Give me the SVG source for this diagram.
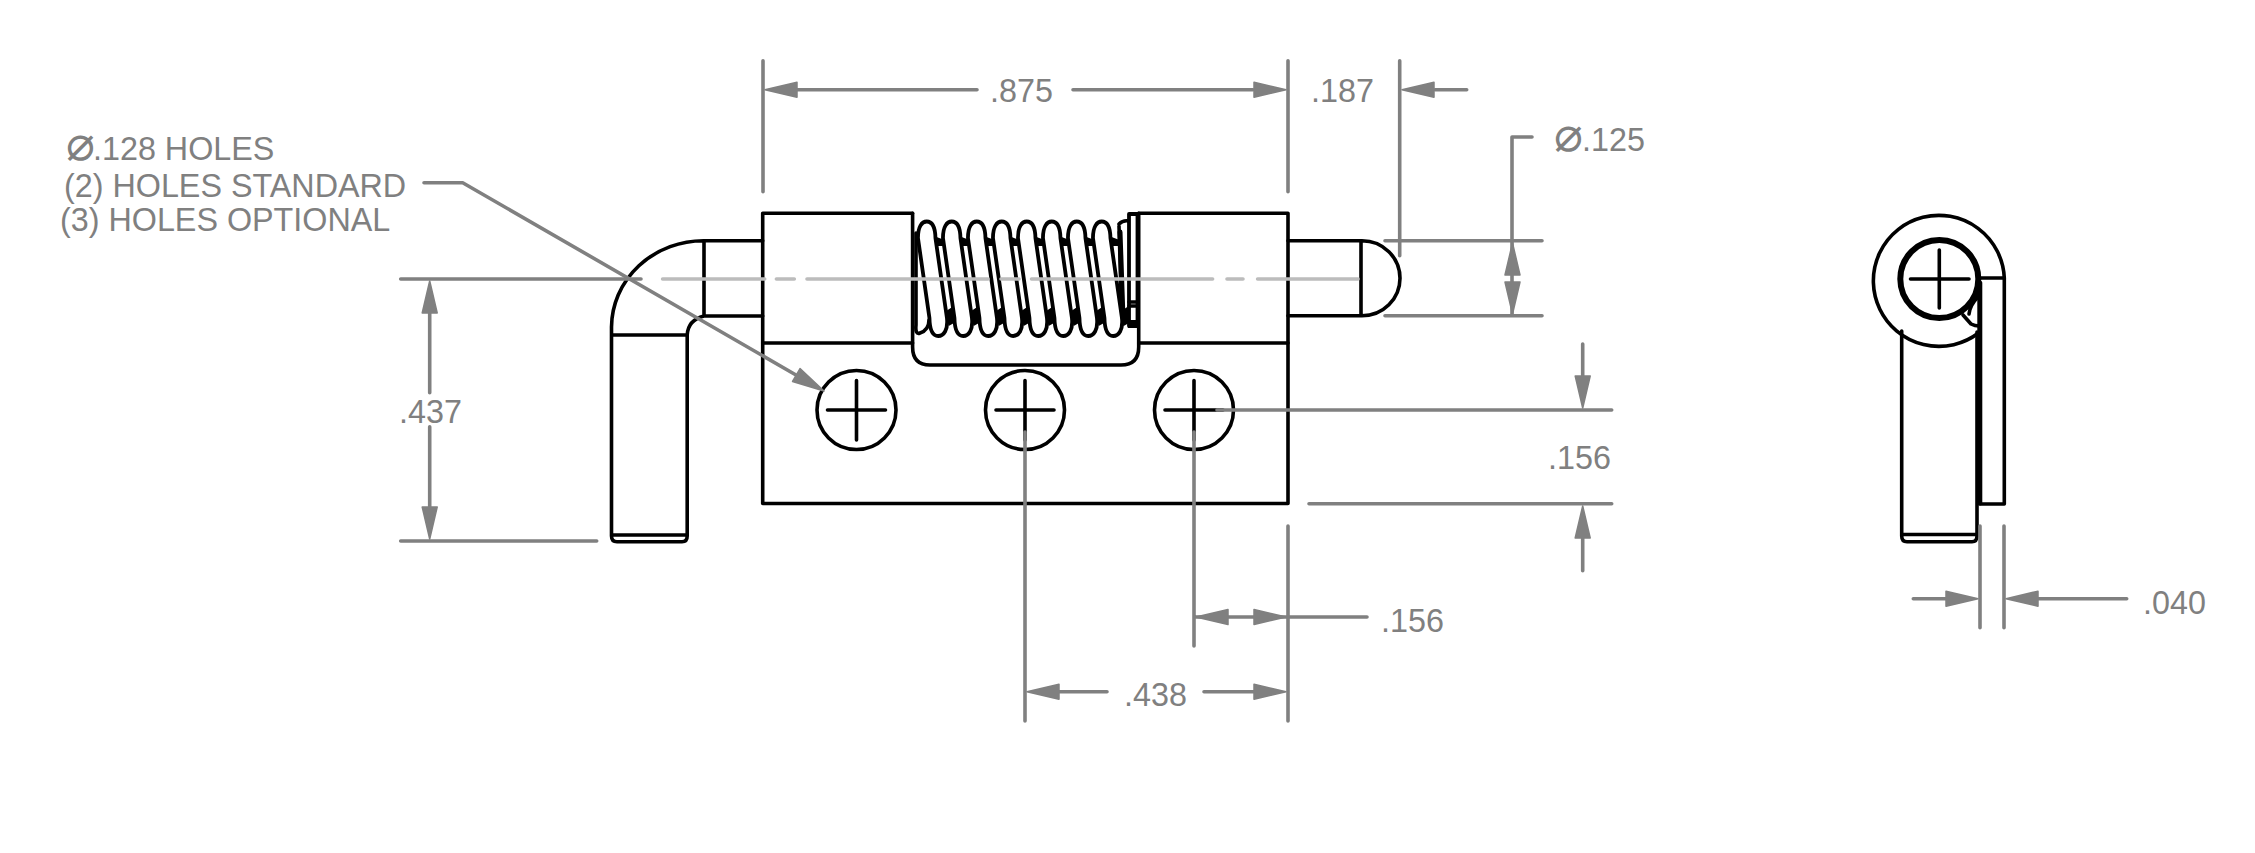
<svg xmlns="http://www.w3.org/2000/svg" xmlns:xlink="http://www.w3.org/1999/xlink" width="2255" height="853" viewBox="0 0 2255 853">
<style>
.k{fill:none;stroke:#000;stroke-width:3.6;stroke-linejoin:round;stroke-linecap:round}
.w{fill:#fff;stroke:#000;stroke-width:3.8;stroke-linejoin:round}
.g{fill:none;stroke:#808080;stroke-width:3.6;stroke-linecap:round;stroke-linejoin:round}
.c{fill:none;stroke:#bcbcbc;stroke-width:3.6;stroke-linecap:round}
.a{fill:#808080;stroke:#808080;stroke-width:1.5;stroke-linejoin:round}
text{font-family:"Liberation Sans",Arial,sans-serif;font-size:32.3px;fill:#808080}
.p{font-family:"DejaVu Sans",sans-serif;font-size:48px}
</style>
<defs>
<path id="ar" class="a" d="M0,0 L-32,-7.5 V7.5 Z"/>
<g id="coil">
<path d="M7,236 L18,240 L18,246 L9,246 Z M18,312 L27,306 L29,322 L22,326 Z" fill="#000"/>
<path class="w" d="M-8.75,238 C-8.75,227 -5,221.5 0,221.5 C5,221.5 8.5,227 8.75,238 L20.25,318 C21.5,330 17,336 11.5,336 C6,336 3,330 2.75,318 Z"/>
</g>
<g id="screw">
<circle class="k" r="39.5"/>
<path class="k" d="M-29,0 H29 M0,-29.5 V30"/>
</g>
</defs>
<rect width="2255" height="853" fill="#fff"/>

<g id="front-view">
<g id="pin-left">
<path class="k" d="M762.7,240.7 H704 A92,87 0 0 0 611.5,327 V536 Q611.5,541.7 617,541.7 H682 Q687.2,541.7 687.2,536 V335 Q688,320 704,316 H762.7 M704,240.7 V316 M611.5,335 H687.2 M612,535 H687"/>
</g>
<g id="pin-right">
<path class="k" d="M1288,240.7 H1362 A38,37.5 0 0 1 1362,315.7 H1288 M1361,240.7 V315.7"/>
</g>
<g id="body">
<path class="k" d="M912.6,343 H762.7 V503.5 H1288 V343 H1138.7"/>
<path class="k" d="M912.6,213.3 H762.7 V343 M1138.7,213.3 H1288 V343"/>
<path class="k" d="M912.6,213.3 V347 Q912.6,365 930,365 H1121 Q1138.7,365 1138.7,347 V213.3"/>
</g>
<g id="spring">
<path class="k" d="M916,233 V325 Q915,335 920,333 Q929,330 929,320"/>
<path class="k" d="M1119,224 Q1123,220 1128.5,221 M1119,226 L1122,325"/>
<use xlink:href="#coil" href="#coil" x="926.7"/>
<use xlink:href="#coil" href="#coil" x="951.7"/>
<use xlink:href="#coil" href="#coil" x="976.7"/>
<use xlink:href="#coil" href="#coil" x="1001.7"/>
<use xlink:href="#coil" href="#coil" x="1026.7"/>
<use xlink:href="#coil" href="#coil" x="1051.7"/>
<use xlink:href="#coil" href="#coil" x="1076.7"/>
<use xlink:href="#coil" href="#coil" x="1101.7"/>
<path class="k" style="stroke-width:5" d="M1120,232 L1123,318"/>
<path class="w" d="M1129,214 H1137.5 V326 H1129 Z"/>
<path class="k" d="M1129,302 H1137.5 M1129,306 H1137.5"/>
<path d="M1128,320 H1139 V328 H1128 Z" fill="#000"/>
</g>
<g id="hole-1"><use xlink:href="#screw" href="#screw" x="856.5" y="410"/></g>
<g id="hole-2"><use xlink:href="#screw" href="#screw" x="1025" y="410"/></g>
<g id="hole-3"><use xlink:href="#screw" href="#screw" x="1194" y="410"/></g>
<path id="centerline" class="c" d="M662.6,279 H764.7 M776.4,279 H794.3 M807,279 H988 M1001,279 H1019 M1031.5,279 H1212.6 M1227,279 H1243 M1257.6,279 H1358"/>
</g>

<g id="side-view">
<path class="k" d="M1978.5,333 A65.5,65.5 0 1 1 2004.3,278"/>
<path class="k" d="M1901.7,331 V536 Q1901.7,541.7 1907,541.7 H1972 Q1977,541.7 1977,536 V332 M1902,534.5 H1977"/>
<path class="k" d="M1980,278 H2004.3 V504 H1980"/>
<path class="k" style="stroke-width:5" d="M1979.8,283 V503"/>
<circle class="k" style="stroke-width:6" cx="1939.3" cy="279" r="39"/>
<path class="k" d="M1910.5,279 H1969 M1939.3,250 V308"/>
<path class="k" d="M1963,315 L1971,324 Q1975,326 1979,326 M1969,314 Q1970,305 1978,297"/>
</g>

<g id="connectors">
<g id="dim-875">
<path class="g" d="M763,60.7 V191.7 M1288,60.7 V191.7 M797,89.7 H977 M1073,89.7 H1253"/>
<use xlink:href="#ar" href="#ar" transform="translate(765,89.7) rotate(180)"/>
<use xlink:href="#ar" href="#ar" transform="translate(1286,89.7)"/>
</g>
<g id="dim-187">
<path class="g" d="M1399.7,60.7 V255.7 M1435,89.7 H1466.7"/>
<use xlink:href="#ar" href="#ar" transform="translate(1402,89.7) rotate(180)"/>
</g>
<g id="dim-125">
<path class="g" d="M1532,137 H1512 V315.7 M1385,240.7 H1542 M1385,315.7 H1542"/>
<use xlink:href="#ar" href="#ar" transform="translate(1512.5,243) rotate(-90)"/>
<use xlink:href="#ar" href="#ar" transform="translate(1512.5,314) rotate(90)"/>
</g>
<g id="dim-437">
<path class="g" d="M400.7,279 H641 M400.7,541 H596.7 M429.7,312.7 V392.7 M429.7,426.7 V506.7"/>
<use xlink:href="#ar" href="#ar" transform="translate(429.7,281) rotate(-90)"/>
<use xlink:href="#ar" href="#ar" transform="translate(429.7,539) rotate(90)"/>
</g>
<g id="dim-156-v">
<path class="g" d="M1217,410 H1611.7 M1309,503.7 H1611.7 M1582.7,344 V376.7 M1582.7,538 V570.7"/>
<use xlink:href="#ar" href="#ar" transform="translate(1582.7,408) rotate(90)"/>
<use xlink:href="#ar" href="#ar" transform="translate(1582.7,506) rotate(-90)"/>
</g>
<g id="dim-156-h">
<path class="g" d="M1194,432 V646 M1288,526 V721 M1196,617 H1367"/>
<use xlink:href="#ar" href="#ar" transform="translate(1196,617) rotate(180)"/>
<use xlink:href="#ar" href="#ar" transform="translate(1286,617)"/>
</g>
<g id="dim-438">
<path class="g" d="M1025,432 V721 M1059,691.7 H1107 M1204,691.7 H1254"/>
<use xlink:href="#ar" href="#ar" transform="translate(1027,691.7) rotate(180)"/>
<use xlink:href="#ar" href="#ar" transform="translate(1286,691.7)"/>
</g>
<g id="dim-040">
<path class="g" d="M1980,526 V627.7 M2004,526 V627.7 M1913.3,598.7 H1946.7 M2038,598.7 H2126.7"/>
<use xlink:href="#ar" href="#ar" transform="translate(1978,598.7)"/>
<use xlink:href="#ar" href="#ar" transform="translate(2006,598.7) rotate(180)"/>
</g>
<g id="leader-holes">
<path class="g" d="M424,182.7 H462.7 L796,375"/>
<use xlink:href="#ar" href="#ar" transform="translate(824,391) rotate(30)"/>
</g>
</g>

<g id="labels">
<text x="990" y="101.5">.875</text>
<text x="1311" y="101.5">.187</text>
<text x="1554" y="150.7"><tspan class="p">⌀</tspan><tspan x="1582">.125</tspan></text>
<text x="66" y="160"><tspan class="p">⌀</tspan><tspan x="93">.128 HOLES</tspan></text>
<text x="64" y="196.7">(2) HOLES STANDARD</text>
<text x="60" y="230.7">(3) HOLES OPTIONAL</text>
<text x="399" y="422.7">.437</text>
<text x="1548" y="468.5">.156</text>
<text x="1381" y="631.5">.156</text>
<text x="1124" y="705.7">.438</text>
<text x="2143" y="614">.040</text>
</g>
</svg>
